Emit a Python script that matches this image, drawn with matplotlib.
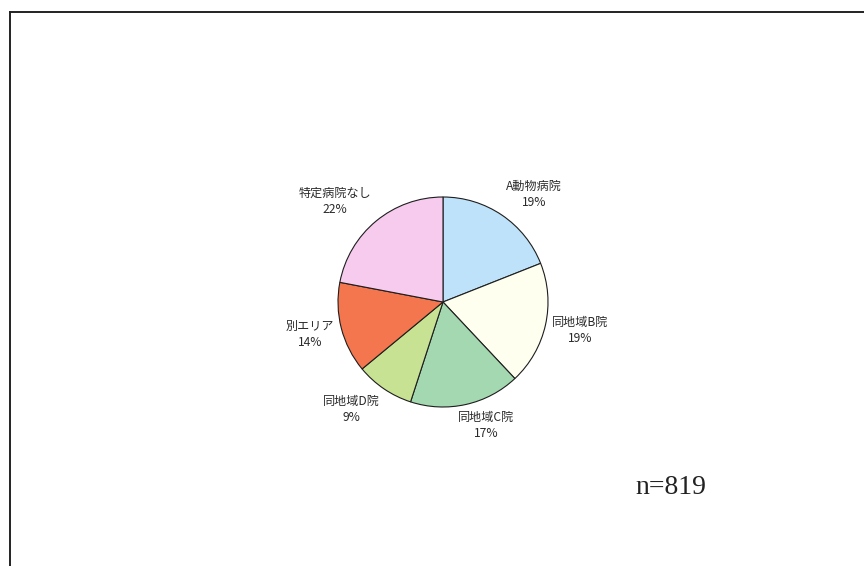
import matplotlib
matplotlib.use('Agg')
import matplotlib.pyplot as plt
from matplotlib.lines import Line2D
import numpy as np

# Share of respondents by usual animal hospital
categories = ['A動物病院', '同地域B院', '同地域C院', '同地域D院', '別エリア', '特定病院なし']
shares = [19, 19, 17, 9, 14, 22]
colors = ['#BEE2F9', '#FFFFF0', '#A3D8B0', '#C8E294', '#F4764E', '#F6CBEE']
sample_size = 819

plt.rcParams['font.family'] = ['Noto Sans CJK JP', 'DejaVu Sans']

W, H = 864, 566
cx, cy, R = 443, H - 302, 105

fig = plt.figure(figsize=(W / 100, H / 100), dpi=100)
ax = fig.add_axes([0, 0, 1, 1])

wedges, _ = ax.pie(
    shares, colors=colors, startangle=90, counterclock=False,
    center=(cx, cy), radius=R, frame=True,
    wedgeprops=dict(edgecolor='#1e1e1e', linewidth=0.8),
)
ax.set_xlim(0, W)
ax.set_ylim(0, H)
ax.set_aspect('equal')
ax.axis('off')

# data labels placed just outside each wedge, box pushed away from the pie
renderer = fig.canvas.get_renderer()
for w, cat, s in zip(wedges, categories, shares):
    mid = np.deg2rad((w.theta1 + w.theta2) / 2)
    dx, dy = np.cos(mid), np.sin(mid)
    t = ax.text(0, 0, f'{cat}\n{s}%', fontsize=8.7, color='#2a2a2a',
                ha='center', va='center', multialignment='center',
                linespacing=1.3)
    bb = t.get_window_extent(renderer)
    hw, hh = bb.width / 2, bb.height / 2
    gx = np.clip(dx * 3.0, -1, 1)
    gy = np.clip(dy * 1.4, -1, 1)
    t.set_position((cx + dx * (R + 7) + hw * gx, cy + dy * (R + 7) + hh * gy))

ax.text(671, H - 487, f'n={sample_size}', fontsize=20, family='Liberation Serif',
        color='#222222', ha='center', va='center')

# frame around the chart area (left and top edges)
fig.add_artist(Line2D([9.5 / W, 9.5 / W], [0, 1 - 11.5 / H], transform=fig.transFigure,
                      color='#222222', lw=1.4))
fig.add_artist(Line2D([9.5 / W, 1], [1 - 11.5 / H, 1 - 11.5 / H], transform=fig.transFigure,
                      color='#222222', lw=1.4))

fig.savefig('out.png', dpi=100)
plt.close(fig)
